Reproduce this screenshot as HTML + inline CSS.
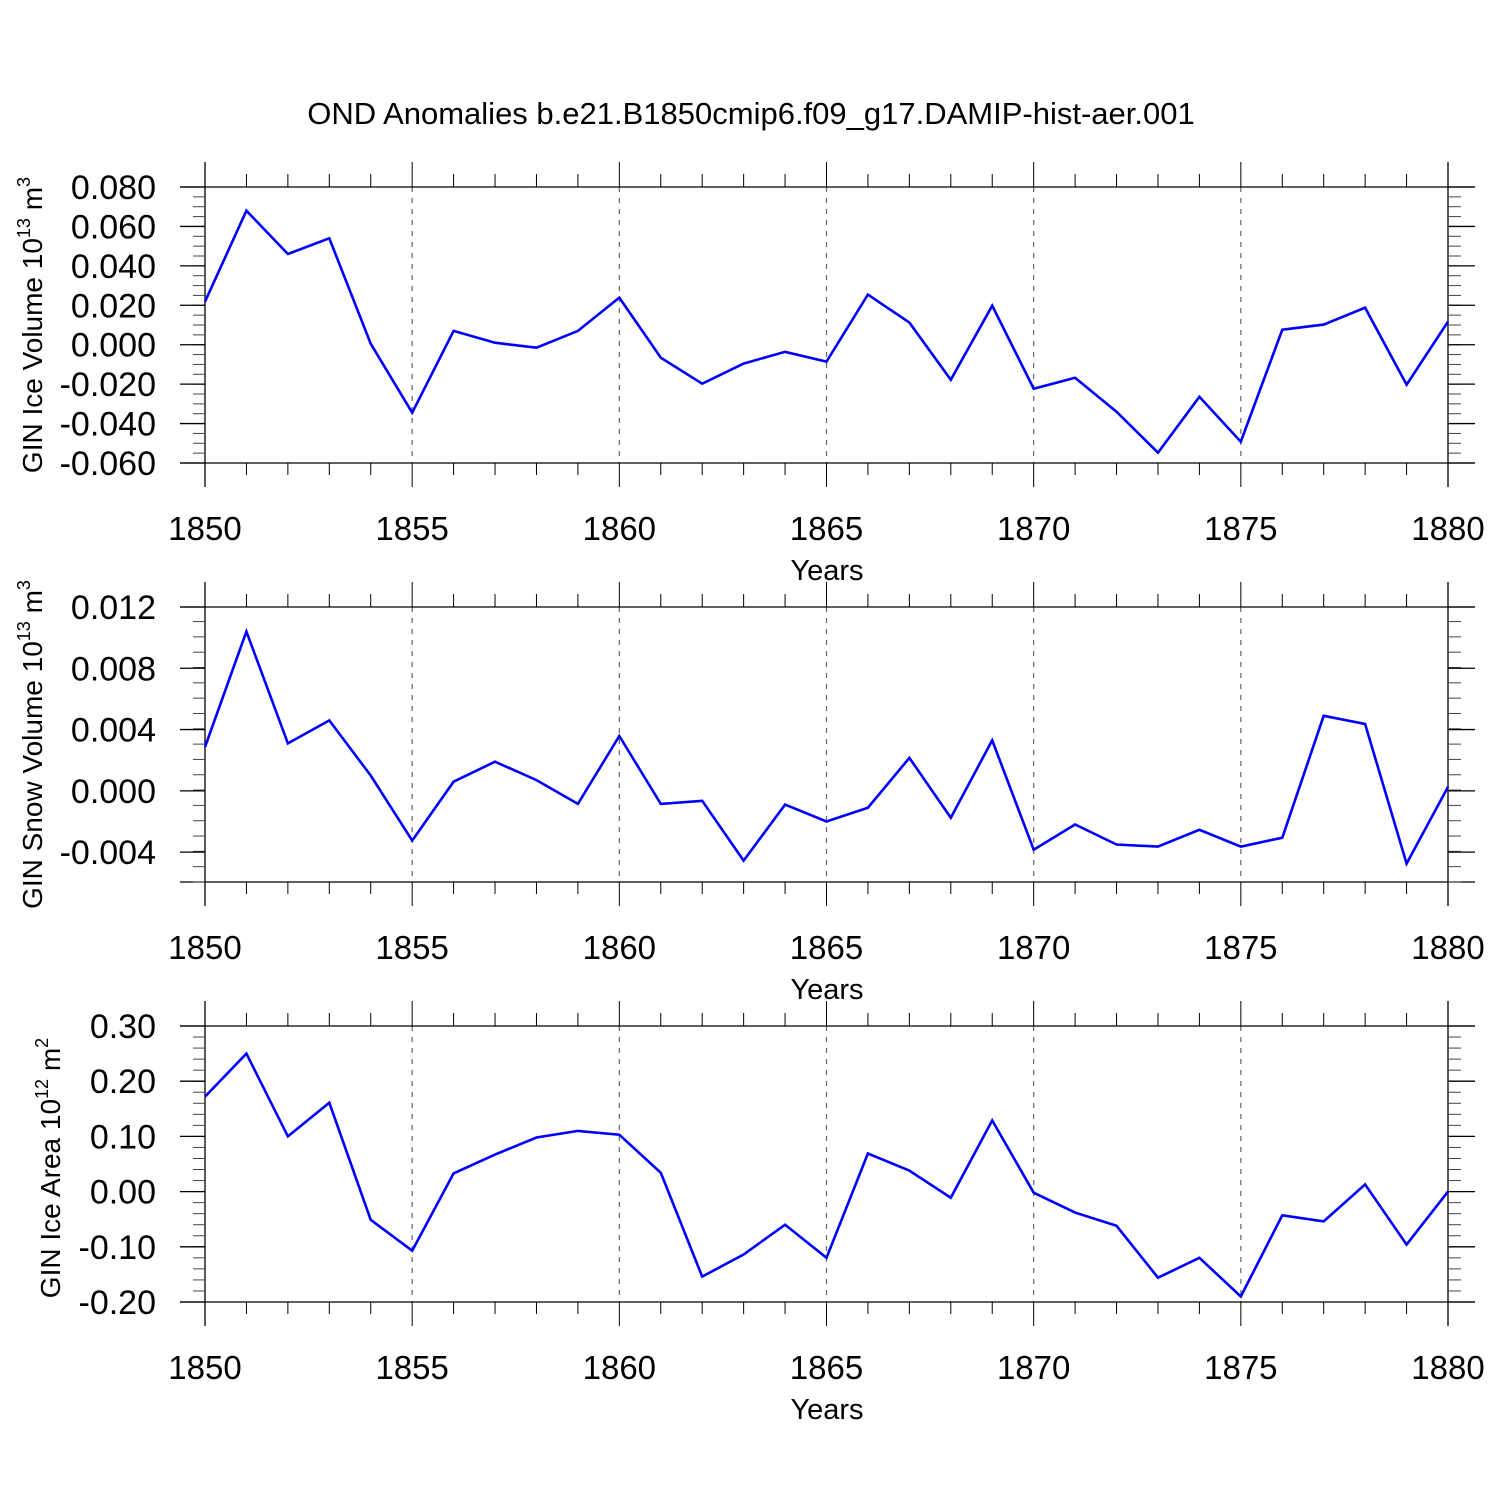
<!DOCTYPE html>
<html><head><meta charset="utf-8"><style>
html,body{margin:0;padding:0;background:#fff}
svg{display:block;font-family:"Liberation Sans",Helvetica,Arial,sans-serif}
</style></head><body>
<svg id="chart" width="1500" height="1500" viewBox="0 0 1500 1500" xmlns="http://www.w3.org/2000/svg">
<rect width="1500" height="1500" fill="#fff"/>
<text x="751" y="124" font-size="31" text-anchor="middle">OND Anomalies b.e21.B1850cmip6.f09_g17.DAMIP-hist-aer.001</text>
</svg>
<script>
const years = [1850,1851,1852,1853,1854,1855,1856,1857,1858,1859,1860,1861,1862,1863,1864,1865,1866,1867,1868,1869,1870,1871,1872,1873,1874,1875,1876,1877,1878,1879,1880];
const iceVolume = [0.0218,0.068,0.046,0.054,0.0005,-0.0345,0.007,0.001,-0.0015,0.007,0.0239,-0.0066,-0.0198,-0.0096,-0.0036,-0.0086,0.0254,0.0112,-0.0178,0.0198,-0.0223,-0.0168,-0.034,-0.0548,-0.0264,-0.0492,0.0076,0.0102,0.0188,-0.0203,0.0117];
const snowVolume = [0.00286,0.0104,0.0031,0.0046,0.001,-0.00325,0.0006,0.0019,0.0007,-0.00085,0.00358,-0.00085,-0.00065,-0.00455,-0.0009,-0.002,-0.0011,0.00215,-0.00175,0.0033,-0.00384,-0.0022,-0.0035,-0.00364,-0.00254,-0.00364,-0.00306,0.0049,0.00436,-0.00475,0.00026];
const iceArea = [0.172,0.25,0.1,0.161,-0.051,-0.107,0.033,0.067,0.098,0.11,0.103,0.034,-0.154,-0.114,-0.06,-0.12,0.069,0.038,-0.011,0.129,-0.002,-0.038,-0.062,-0.156,-0.12,-0.19,-0.043,-0.054,0.013,-0.096,0];
const xTickLabels = ["1850","1855","1860","1865","1870","1875","1880"];
const iceVolumeTicks = ["0.080","0.060","0.040","0.020","0.000","-0.020","-0.040","-0.060"];
const snowVolumeTicks = ["0.012","0.008","0.004","0.000","-0.004"];
const iceAreaTicks = ["0.30","0.20","0.10","0.00","-0.10","-0.20"];

const NS="http://www.w3.org/2000/svg";
const svg=document.getElementById('chart');
function el(tag,attrs,parent){const e=document.createElementNS(NS,tag);for(const k in attrs)e.setAttribute(k,attrs[k]);(parent||svg).appendChild(e);return e;}
const X0=205,X1=1448;
function xs(yr){return X0+(yr-1850)/(1880-1850)*(X1-X0);}

const panels=[
 {name:'ice-volume',top:187,bot:463,ymin:-0.06,ymax:0.08,ticks:iceVolumeTicks,minor:0.005,vals:iceVolume,title:['GIN Ice Volume 10','13',' m','3'],tx:32,off:0},
 {name:'snow-volume',top:607,bot:882,ymin:-0.00595,ymax:0.012,ticks:snowVolumeTicks,minor:0.001,vals:snowVolume,title:['GIN Snow Volume 10','13',' m','3'],tx:32,off:0},
 {name:'ice-area',top:1026,bot:1302,ymin:-0.2,ymax:0.3,ticks:iceAreaTicks,minor:0.02,vals:iceArea,title:['GIN Ice Area 10','12',' m','2'],tx:50,off:4}
];
panels.forEach(p=>{
 const g=el('g',{});
 
 
 const ys=v=>p.bot-(v-p.ymin)/(p.ymax-p.ymin)*(p.bot-p.top);
 for(let i=1;i<xTickLabels.length-1;i++){
  const x=xs(+xTickLabels[i]);
  const l=el('line',{x1:x,x2:x,y1:p.top,y2:p.bot,stroke:'#666','stroke-width':1.2,'stroke-dasharray':'5,6'},g);
  
  
 }
 el('line',{x1:180,x2:1475,y1:p.top,y2:p.top,stroke:'#000','stroke-width':1.3},g);
 el('line',{x1:180,x2:1475,y1:p.bot,y2:p.bot,stroke:'#000','stroke-width':1.3},g);
 el('line',{x1:X0,x2:X0,y1:p.top-25,y2:p.bot+24,stroke:'#000','stroke-width':1.3},g);
 el('line',{x1:X1,x2:X1,y1:p.top-25,y2:p.bot+24,stroke:'#000','stroke-width':1.3},g);
 years.forEach(yr=>{
  const x=xs(yr);const major=(yr%5===0);
  el('line',{x1:x,x2:x,y1:p.top,y2:p.top-(major?25:13),stroke:'#000','stroke-width':1},g);
  el('line',{x1:x,x2:x,y1:p.bot,y2:p.bot+(major?24:12),stroke:'#000','stroke-width':1},g);
 });
 xTickLabels.forEach(t=>{
  const tx=el('text',{x:xs(+t),y:p.bot+77,'font-size':33,'text-anchor':'middle'},g);
  tx.textContent=t;
  
  
 });
 const xt=el('text',{x:827,y:p.bot+117,'font-size':29,'text-anchor':'middle'},g);
 xt.textContent='Years';
 
 
 const n=Math.round((p.ymax-p.ymin)/p.minor);
 for(let i=0;i<=n+1;i++){
  const v=p.ymin+i*p.minor; if(v>p.ymax+1e-9)break;
  const y=ys(v);
  el('line',{x1:X0,x2:X0-12,y1:y,y2:y,stroke:'#444','stroke-width':1},g);
  el('line',{x1:X1,x2:X1+13,y1:y,y2:y,stroke:'#444','stroke-width':1},g);
 }
 p.ticks.forEach(t=>{
  const y=ys(+t);
  el('line',{x1:X0,x2:180,y1:y,y2:y,stroke:'#000','stroke-width':1.3},g);
  el('line',{x1:X1,x2:1475,y1:y,y2:y,stroke:'#000','stroke-width':1.3},g);
  const tx=el('text',{x:156,y:y+12,'font-size':34,'text-anchor':'end'},g);
  tx.textContent=t;
  
  
 });
 const cy=(p.top+p.bot)/2+p.off;
 const tt=el('text',{x:0,y:0,'font-size':28,'text-anchor':'middle',transform:`translate(${p.tx+10},${cy}) rotate(-90)`},g);
 
 
 const parts=p.title;
 const a=el('tspan',{},tt);a.textContent=parts[0];
 const b=el('tspan',{dy:-12,'font-size':18},tt);b.textContent=parts[1];
 const c=el('tspan',{dy:12},tt);c.textContent=parts[2];
 const d=el('tspan',{dy:-12,'font-size':18},tt);d.textContent=parts[3];
 const pts=p.vals.map((v,i)=>xs(years[i]).toFixed(1)+','+ys(v).toFixed(1)).join(' ');
 const pl=el('polyline',{points:pts,fill:'none',stroke:'#0000ff','stroke-width':2.6,'stroke-linejoin':'miter'},g);
 
 
});
</script>
</body></html>
